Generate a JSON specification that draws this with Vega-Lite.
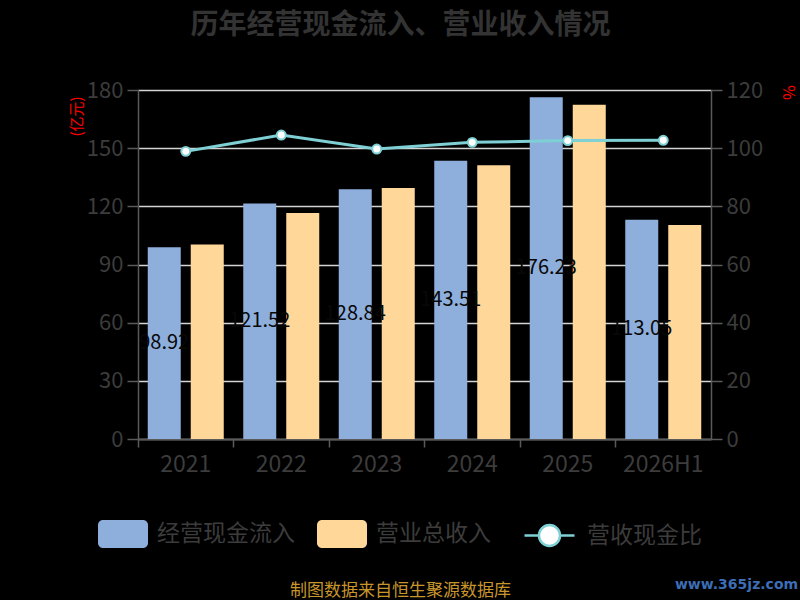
{
  "$schema": "https://vega.github.io/schema/vega-lite/v6.json",
  "width": 573,
  "height": 349,
  "autosize": "none",
  "padding": {"left": 138, "top": 90, "right": 89, "bottom": 161},
  "background": "#000000",
  "title": {
    "text": "历年经营现金流入、营业收入情况",
    "fontSize": 28,
    "fontWeight": "bold",
    "color": "#333333",
    "anchor": "middle",
    "dx": -24,
    "offset": 39
  },
  "datasets": {
    "bars": [
      {"year": "2021", "series": "经营现金流入", "value": 98.92},
      {"year": "2021", "series": "营业总收入", "value": 100.3},
      {"year": "2022", "series": "经营现金流入", "value": 121.52},
      {"year": "2022", "series": "营业总收入", "value": 116.5},
      {"year": "2023", "series": "经营现金流入", "value": 128.84},
      {"year": "2023", "series": "营业总收入", "value": 129.5},
      {"year": "2024", "series": "经营现金流入", "value": 143.51},
      {"year": "2024", "series": "营业总收入", "value": 141.2},
      {"year": "2025", "series": "经营现金流入", "value": 176.23},
      {"year": "2025", "series": "营业总收入", "value": 172.4},
      {"year": "2026H1", "series": "经营现金流入", "value": 113.05},
      {"year": "2026H1", "series": "营业总收入", "value": 110.4}
    ],
    "ratio": [
      {"year": "2021", "ratio": 98.9},
      {"year": "2022", "ratio": 104.5},
      {"year": "2023", "ratio": 99.7},
      {"year": "2024", "ratio": 102.0},
      {"year": "2025", "ratio": 102.6},
      {"year": "2026H1", "ratio": 102.7}
    ]
  },
  "layer": [
    {
      "data": {"name": "bars"},
      "mark": {"type": "bar"},
      "encoding": {
        "x": {
          "field": "year",
          "type": "nominal",
          "sort": ["2021", "2022", "2023", "2024", "2025", "2026H1"],
          "scale": {"paddingInner": 0, "paddingOuter": 0},
          "axis": {
            "orient": "bottom",
            "labels": false,
            "ticks": true,
            "tickSize": 8,
            "bandPosition": 0,
            "domain": true,
            "grid": false,
            "title": "www.365jz.com",
            "titleColor": "#3d6db5",
            "titleFont": "DejaVu Sans",
            "titleFontSize": 14,
            "titleFontWeight": "bold",
            "titleX": 598,
            "titleY": 145,
            "titleAlign": "center",
            "titleBaseline": "middle"
          }
        },
        "xOffset": {
          "field": "series",
          "type": "nominal",
          "sort": ["经营现金流入", "营业总收入"],
          "scale": {"paddingInner": 0.2326, "paddingOuter": 0.2267}
        },
        "y": {
          "field": "value",
          "type": "quantitative",
          "scale": {"domain": [0, 180]},
          "axis": {
            "orient": "left",
            "values": [0, 30, 60, 90, 120, 150, 180],
            "grid": true,
            "tickSize": 11,
            "labelPadding": 4,
            "title": "(亿元)",
            "titleColor": "#ff0000",
            "titleFontSize": 15,
            "titleFontWeight": "normal",
            "titleAngle": 270,
            "titleX": -62,
            "titleY": 26,
            "titleAlign": "center",
            "titleBaseline": "middle"
          }
        },
        "color": {
          "field": "series",
          "type": "nominal",
          "scale": {
            "domain": ["经营现金流入", "营业总收入"],
            "range": ["#8eaedc", "#ffd899"]
          },
          "legend": {
            "orient": "none",
            "legendX": -40,
            "legendY": 419,
            "direction": "horizontal",
            "title": null,
            "padding": 0,
            "symbolSize": 2500,
            "symbolType": "M-0.8,-0.56H0.8A0.2,0.2 0 0 1 1,-0.36V0.36A0.2,0.2 0 0 1 0.8,0.56H-0.8A0.2,0.2 0 0 1 -1,0.36V-0.36A0.2,0.2 0 0 1 -0.8,-0.56Z",
            "symbolStrokeWidth": 0,
            "symbolOpacity": 1,
            "labelFontSize": 23,
            "labelColor": "#3c3c3c",
            "labelOffset": 9,
            "columnPadding": 22
          }
        }
      }
    },
    {
      "data": {"name": "ratio"},
      "mark": {
        "type": "line",
        "strokeWidth": 3,
        "point": {"filled": false, "fill": "#ffffff", "size": 80, "strokeWidth": 2}
      },
      "encoding": {
        "x": {
          "field": "year",
          "type": "nominal",
          "sort": ["2021", "2022", "2023", "2024", "2025", "2026H1"],
          "axis": {
            "orient": "bottom",
            "ticks": false,
            "domain": false,
            "labels": true,
            "labelAngle": 0,
            "labelFontSize": 23,
            "labelPadding": 14,
            "grid": false,
            "title": "制图数据来自恒生聚源数据库",
            "titleColor": "#c9962c",
            "titleFontSize": 17,
            "titleFontWeight": "normal",
            "titleX": 262,
            "titleY": 151,
            "titleAlign": "center",
            "titleBaseline": "middle"
          }
        },
        "y": {
          "field": "ratio",
          "type": "quantitative",
          "scale": {"domain": [0, 120]},
          "axis": {
            "orient": "right",
            "values": [0, 20, 40, 60, 80, 100, 120],
            "grid": false,
            "tickSize": 11,
            "labelPadding": 4,
            "title": "%",
            "titleColor": "#ff0000",
            "titleFontSize": 16,
            "titleFontWeight": "normal",
            "titleAngle": 90,
            "titleX": 76,
            "titleY": 2,
            "titleAlign": "center",
            "titleBaseline": "middle"
          }
        },
        "stroke": {
          "datum": "营收现金比",
          "type": "nominal",
          "scale": {"domain": ["营收现金比"], "range": ["#7fd0d4"]},
          "legend": {
            "orient": "none",
            "legendX": 385,
            "legendY": 419,
            "direction": "horizontal",
            "title": null,
            "padding": 0,
            "symbolSize": 2500,
            "symbolFillColor": "#ffffff",
            "labelFontSize": 23,
            "labelColor": "#3c3c3c",
            "labelOffset": 11,
            "encode": {
              "symbols": {
                "update": {
                  "shape": {"value": "M-1,0H-0.42M0.42,0H1M0.42,0A0.42,0.42 0 1 1 -0.42,0A0.42,0.42 0 1 1 0.42,0Z"},
                  "fill": {"value": "#ffffff"},
                  "stroke": {"value": "#7fd0d4"},
                  "strokeWidth": {"value": 2.5},
                  "fillOpacity": {"value": 1},
                  "opacity": {"value": 1}
                }
              }
            }
          }
        }
      }
    },
    {
      "data": {"name": "bars"},
      "transform": [{"filter": "datum.series === '经营现金流入'"}],
      "mark": {"type": "text", "fontSize": 20, "fill": "#080808", "baseline": "middle", "align": "center"},
      "encoding": {
        "x": {
          "field": "year",
          "type": "nominal",
          "sort": ["2021", "2022", "2023", "2024", "2025", "2026H1"],
          "axis": null
        },
        "xOffset": {
          "field": "series",
          "type": "nominal",
          "sort": ["经营现金流入", "营业总收入"]
        },
        "y": {
          "field": "value",
          "type": "quantitative",
          "scale": {"domain": [0, 360]},
          "axis": null
        },
        "text": {"field": "value", "type": "quantitative"}
      }
    }
  ],
  "resolve": {
    "scale": {"y": "independent"},
    "axis": {"x": "independent", "y": "independent"}
  },
  "config": {
    "font": "Noto Sans CJK SC",
    "view": {"stroke": null},
    "axis": {
      "labelColor": "#3c3c3c",
      "labelFontSize": 22,
      "domainColor": "#5a5a5a",
      "tickColor": "#5a5a5a",
      "domainWidth": 1.5,
      "tickWidth": 1.5,
      "gridColor": "#d4d4d4",
      "gridWidth": 1.5
    }
  }
}
